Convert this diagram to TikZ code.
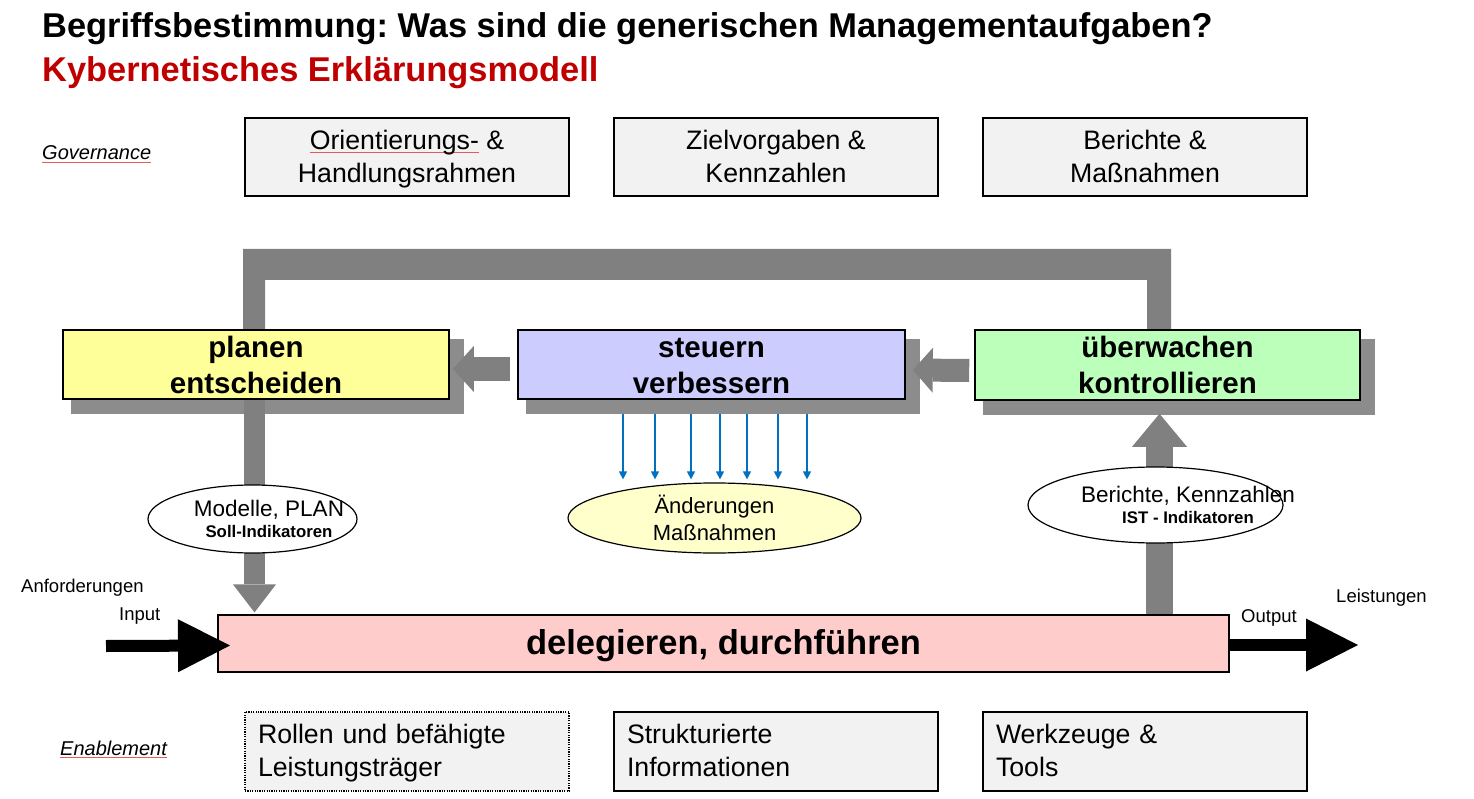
\documentclass[tikz,border=0pt]{standalone}
\usepackage{fontspec}
\setmainfont{Liberation Sans}
\usepackage{xcolor}
\usepackage{tikz}
\usetikzlibrary{arrows.meta, shapes.geometric, backgrounds}
\definecolor{titlered}{RGB}{192,0,0}
\definecolor{spellred}{RGB}{230,90,90}
\definecolor{govfill}{RGB}{242,242,242}
\definecolor{planfill}{RGB}{255,255,153}
\definecolor{steerfill}{RGB}{204,204,255}
\definecolor{watchfill}{RGB}{187,255,187}
\definecolor{dofill}{RGB}{255,204,204}
\definecolor{changefill}{RGB}{255,255,204}
\definecolor{flowgray}{RGB}{128,128,128}
\definecolor{shadowgray}{RGB}{140,140,140}
\definecolor{arrowblue}{RGB}{0,112,192}
\newcommand{\titlefont}{\fontsize{34.4}{40}\selectfont\bfseries}
\newcommand{\govfont}{\fontsize{26.7}{33}\selectfont}
\newcommand{\taskfont}{\fontsize{29.5}{36}\selectfont\bfseries}
\newcommand{\dofont}{\fontsize{34.5}{40}\selectfont\bfseries}
\newcommand{\ovalfont}{\fontsize{22.5}{21.5}\selectfont}
\newcommand{\smallbold}{\fontsize{16.8}{21.5}\selectfont\bfseries}
\newcommand{\labelfont}{\fontsize{18.5}{22}\selectfont}
\newcommand{\itlabelfont}{\fontsize{20}{24}\selectfont\itshape}
\newsavebox{\spellbox}
\newcommand{\spellmark}[1]{\sbox{\spellbox}{#1}\rlap{\color{spellred}\rule[-3pt]{\wd\spellbox}{0.9pt}}\usebox{\spellbox}}
\frenchspacing

\begin{document}
\begin{tikzpicture}[
    x=1pt, y=-1pt,
    govbox/.style={rectangle, draw, line width=1.6pt, fill=govfill, minimum width=324pt, minimum height=78pt, align=center, text height=52.5pt, text depth=0.5pt, font=\govfont},
    enabox/.style={govbox, align=left, text width=298pt, inner xsep=13pt, inner ysep=0pt, minimum height=79pt, text height=19.5pt, text depth=36.5pt},
    taskbox/.style={rectangle, draw, line width=1.6pt, minimum width=386pt, minimum height=69pt, align=center, text height=57.5pt, text depth=0.5pt, font=\taskfont},
    dobox/.style={rectangle, draw, line width=1.2pt, fill=dofill, minimum width=1011pt, minimum height=57pt, text depth=2.2pt, font=\dofont},
    oval/.style={ellipse, draw, line width=1.2pt, fill=white, inner sep=0pt},
    ovaltext/.style={align=center, inner sep=0pt, font=\ovalfont},
    note/.style={inner sep=0pt, anchor=base west, font=\labelfont},
    blockarrow/.style={draw=flowgray, line cap=butt},
    bigarrow/.style={line width=12pt, -{Triangle[length=52pt, width=53pt, line width=0pt]}},
    changearrow/.style={draw=arrowblue, line width=1.2pt, -{Triangle[length=8pt, width=8pt]}}
]
\useasboundingbox (0,0) rectangle (1474,799);

% titles
\node[note, font=\titlefont] (title) at (42,38) {Begriffsbestimmung: Was sind die generischen Managementaufgaben?};
\node[note, font=\titlefont, text=titlered] (subtitle) at (42,82) {Kybernetisches Erklärungsmodell};

% governance
\node[note, font=\itlabelfont] (govlabel) at (42,160) {\spellmark{Governance}};
\node[govbox] (orient) at (407,157) {\spellmark{Orientierungs-} \&\\Handlungsrahmen};
\node[govbox] (targets) at (776,157) {Zielvorgaben \&\\Kennzahlen};
\node[govbox] (reports) at (1145,157) {Berichte \&\\Maßnahmen};

% management tasks
\node[taskbox, fill=planfill] (plan) at (256,364.5) {planen\\entscheiden};
\node[taskbox, fill=steerfill, minimum width=387pt] (steer) at (711.5,364.5) {steuern\\verbessern};
\node[taskbox, fill=watchfill, minimum width=385pt, minimum height=70pt] (watch) at (1167.5,365) {überwachen\\kontrollieren};
\node[dobox] (do) at (723.5,643.5) {delegieren, durchführen};

% documents
\node[oval, minimum width=209pt, minimum height=68pt] (plandoc) at (252.5,519) {};
\node[ovaltext] (plantext) at ([xshift=16.5pt]plandoc.center) {Modelle, PLAN\\{\smallbold Soll-Indikatoren}};
\node[oval, fill=changefill, minimum width=293pt, minimum height=70pt] (change) at (714.5,518) {};
\node[ovaltext, font=\fontsize{22}{27}\selectfont] (changetext) at (change.center) {Änderungen\\Maßnahmen};
\node[oval, minimum width=255pt, minimum height=76pt] (reportdoc) at (1155.5,505) {};
\node[ovaltext] (reporttext) at ([xshift=32.5pt]reportdoc.center) {Berichte, Kennzahlen\\{\smallbold IST - Indikatoren}};

% enablement
\node[note, font=\itlabelfont] (enalabel) at (60,755) {\spellmark{Enablement}};
\node[enabox, dash pattern=on 1.2pt off 1.2pt, line width=1.4pt] (roles) at (407,751.5) {Rollen und befähigte\\Leistungsträger};
\node[enabox] (infos) at (776,751.5) {Strukturierte\\Informationen};
\node[enabox] (tools) at (1145,751.5) {Werkzeuge \&\\Tools};

% input / output
\node[note] (demand) at (21,592) {Anforderungen};
\node[note] (inlabel) at (119,620) {Input};
\node[note] (outlabel) at (1241,622) {Output};
\node[note] (result) at (1336,602) {Leistungen};
\coordinate (inputtail) at (106,646);
\coordinate (outputtip) at (1358,645);
\draw[bigarrow] (inputtail) -- ([xshift=12.6pt,yshift=-2pt]do.west);
\draw[bigarrow] ([yshift=-1.5pt]do.east) -- (outputtip);

% changes
\foreach \dx in {-88.5,-56.5,-20.5,8.5,35.5,66.5,95.5}
    \draw[changearrow, shorten >=3pt] ([xshift=\dx pt, yshift=-14pt]steer.south) -- ([xshift=\dx pt]steer.south |- change.north);

\begin{scope}[on background layer]
% control loop
\fill[flowgray] (plan.north -| 243,0) -- (243,249) -- (1171,249) -- (watch.north -| 1171,0)
    -- (watch.north -| 1147,0) -- (1147,280) -- (265,280) -- (plan.north -| 265,0) -- cycle;
\foreach \task in {plan, steer, watch}
    \fill[shadowgray] ([shift={(8.5,10)}]\task.north west) rectangle ([shift={(14,14)}]\task.south east);
\draw[blockarrow, line width=24pt, -{Triangle[length=21pt, width=46pt, line width=0pt]}] ([xshift=-7pt, yshift=-4.5pt]steer.west) -- ([xshift=3pt, yshift=-4.5pt]plan.east);
\draw[blockarrow, line width=23pt, -{Triangle[length=20pt, width=45pt, line width=0pt]}] ([xshift=-5pt, yshift=-5.5pt]watch.west) -- ([xshift=7pt, yshift=-5.5pt]steer.east);
\draw[blockarrow, line width=21pt, -{Triangle[length=28pt, width=43pt, line width=0pt]}, shorten >=2pt] ([xshift=-1.5pt]plan.south) -- ([xshift=-1.5pt]plan.south |- do.north);
\draw[blockarrow, line width=27pt, -{Triangle[length=33pt, width=55pt, line width=0pt]}] ([xshift=-8pt]watch.south |- do.north) -- ([xshift=-8pt, yshift=-13pt]watch.south);
\end{scope}

\end{tikzpicture}
\end{document}
